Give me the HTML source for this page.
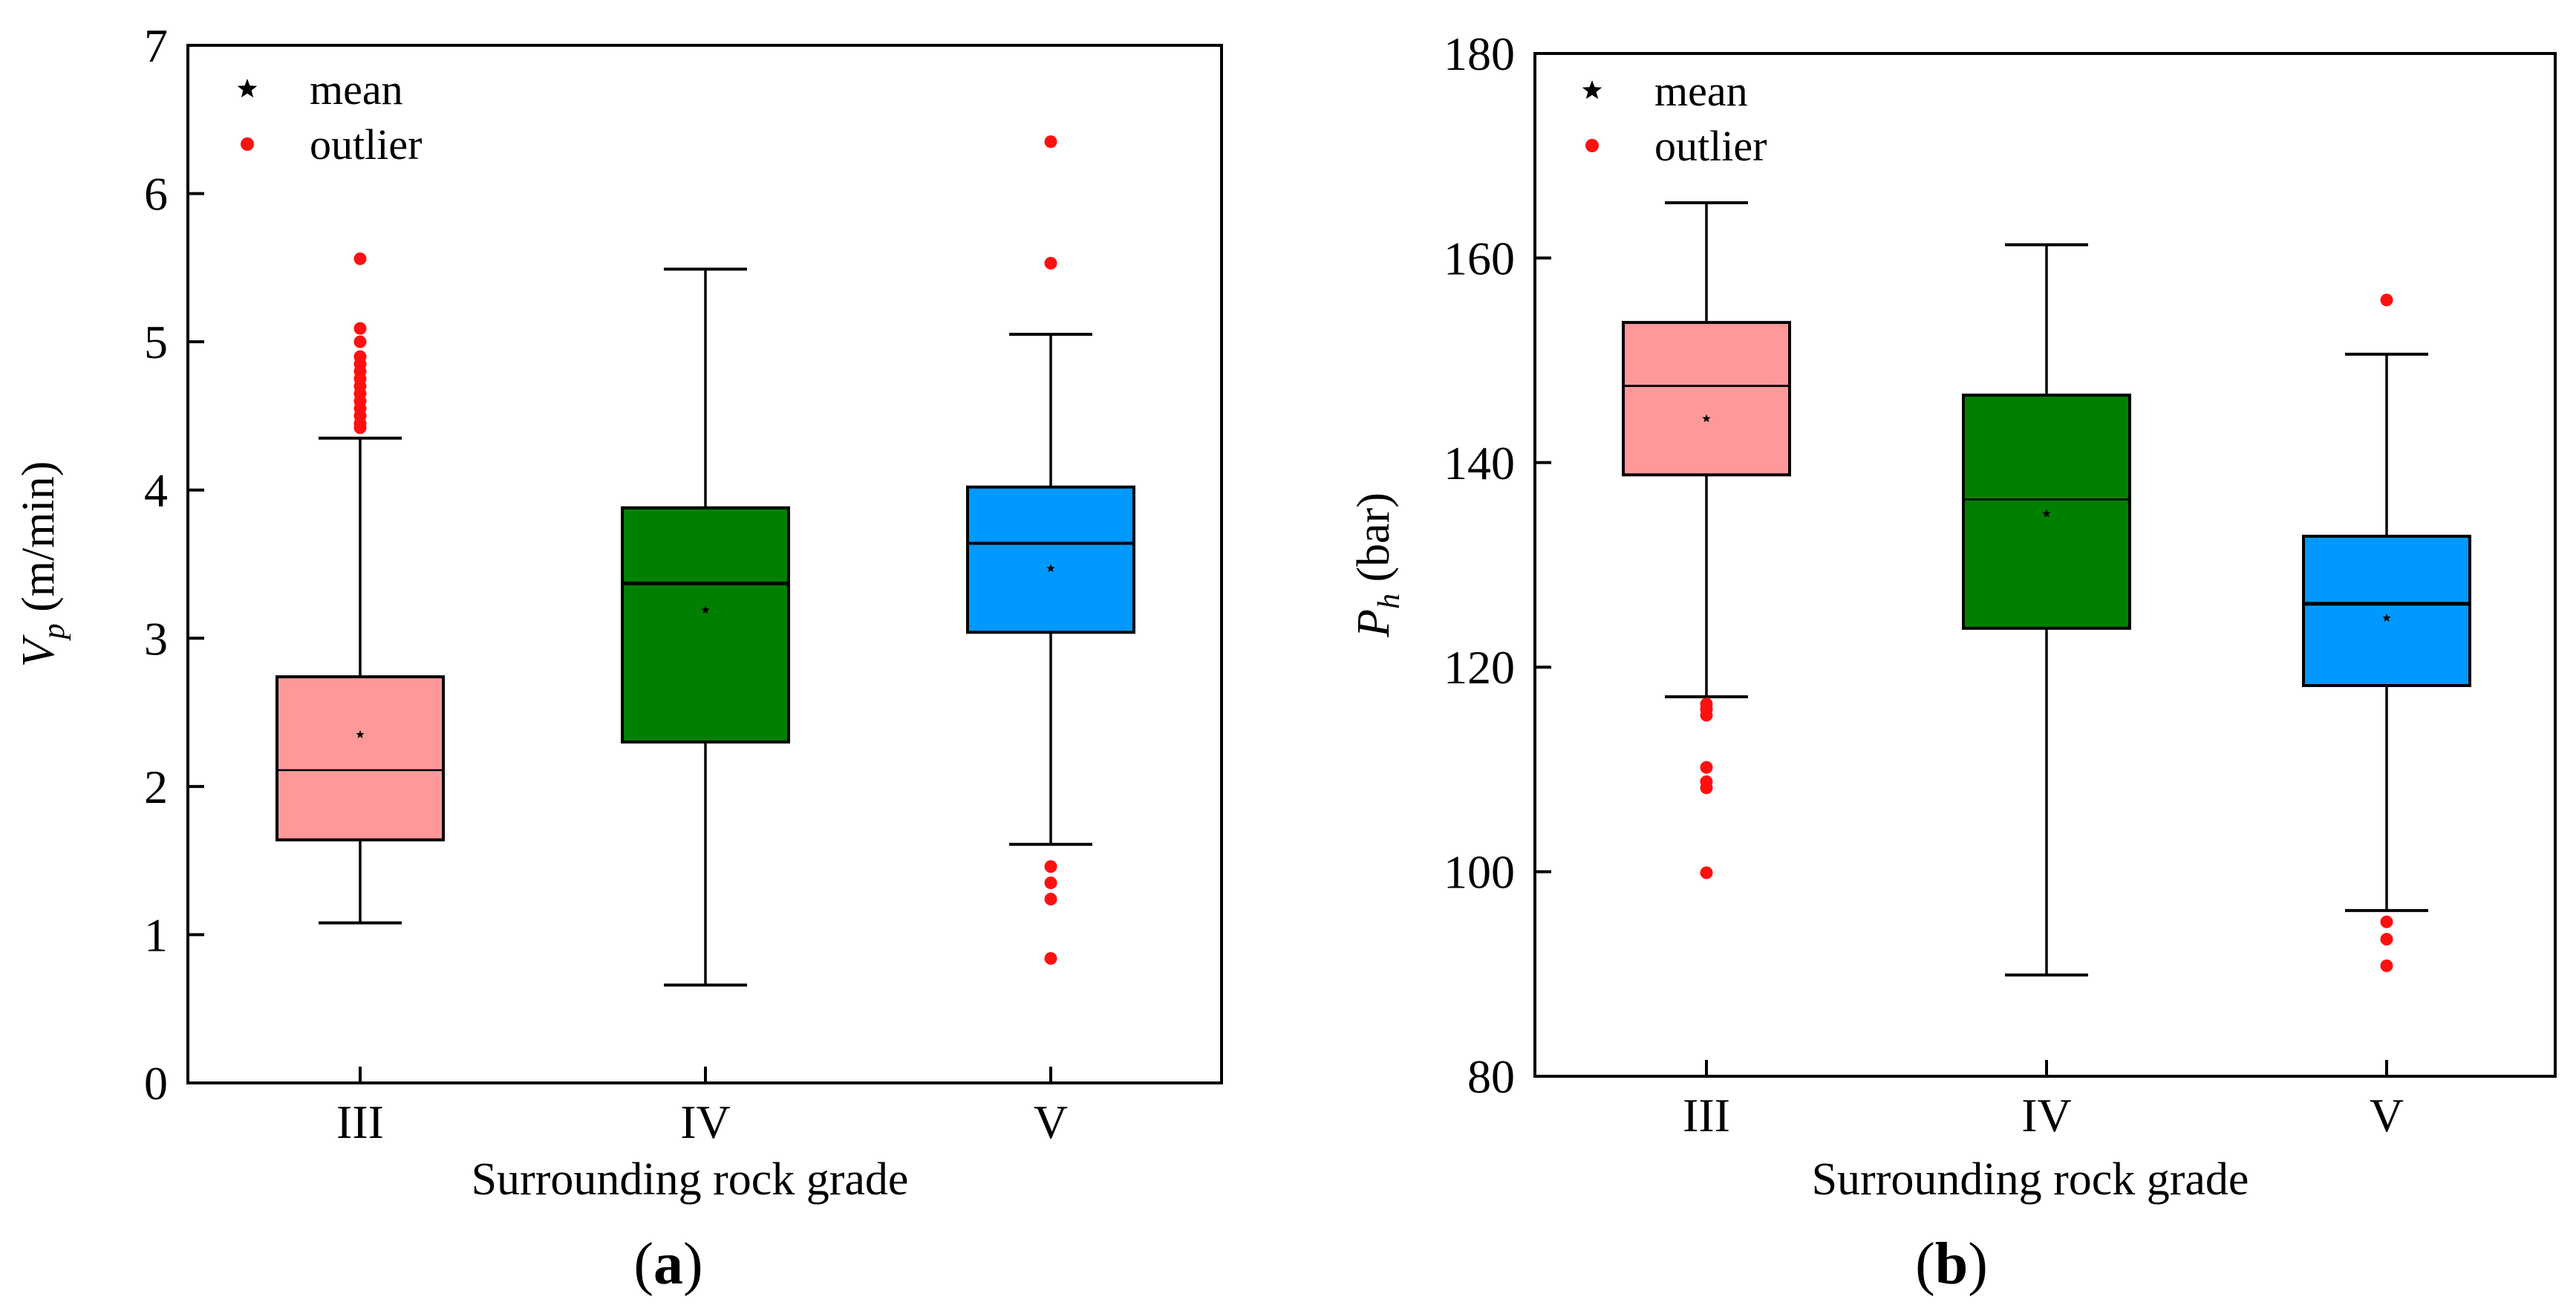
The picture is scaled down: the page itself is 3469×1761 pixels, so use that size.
<!DOCTYPE html>
<html><head><meta charset="utf-8"><style>
html,body{margin:0;padding:0;background:#fff;}
svg{display:block;font-family:"Liberation Serif",serif;}
</style></head><body>
<svg id="c" width="3469" height="1761" viewBox="0 0 3469 1761" xmlns="http://www.w3.org/2000/svg"></svg>
<script>
// ---- data (a) ----
const categories = ["III","IV","V"];
const vpQ1 = [1.64, 2.30, 3.04];
const vpMedian = [2.11, 3.37, 3.64];
const vpQ3 = [2.74, 3.88, 4.02];
const vpMean = [2.35, 3.19, 3.47];
const vpWhiskLow = [1.08, 0.66, 1.61];
const vpWhiskHigh = [4.35, 5.49, 5.05];
const vpOutliers = [
  [5.56,5.09,5.0,4.9,4.85,4.8,4.75,4.7,4.65,4.6,4.55,4.5,4.45,4.42],
  [],
  [6.35,5.53,1.46,1.35,1.24,0.84]
];
const vpTicks = [0,1,2,3,4,5,6,7];
// ---- data (b) ----
const phQ1 = [138.8, 123.8, 118.2];
const phMedian = [147.5, 136.4, 126.2];
const phQ3 = [153.7, 146.6, 132.8];
const phMean = [144.3, 135.0, 124.8];
const phWhiskLow = [117.1, 89.9, 96.2];
const phWhiskHigh = [165.4, 161.3, 150.6];
const phOutliers = [
  [116.4,115.9,115.3,110.2,108.8,108.2,99.9],
  [],
  [155.9,95.1,93.4,90.8]
];
const phTicks = [80,100,120,140,160,180];
const fills = ["#ff9999","#008000","#0099ff"];

const svg = document.getElementById('c');
const NS = "http://www.w3.org/2000/svg";
function mk(tag, attrs, parent){
  const e = document.createElementNS(NS, tag);
  for (const k in attrs) e.setAttribute(k, attrs[k]);
  (parent||svg).appendChild(e);
  return e;
}
function star(g, cx, cy, r){
  let p=[];
  for(let i=0;i<10;i++){const a=-Math.PI/2+i*Math.PI/5;const rr=i%2?r*0.42:r;p.push((cx+rr*Math.cos(a)).toFixed(1)+","+(cy+rr*Math.sin(a)).toFixed(1));}
  return mk('polygon',{points:p.join(' '),fill:'#000'},g);
}

function panel(opt){
  const g = mk('g',{});
  
  
  const L=opt.left,R=opt.right,T=opt.top,B=opt.bottom;
  const y = v => B - (v-opt.ymin)/(opt.ymax-opt.ymin)*(B-T);
  const x = i => opt.x0 + i*opt.dx;
  const area = mk('rect',{x:L,y:T,width:R-L,height:B-T,fill:'#fff',stroke:'#000','stroke-width':4},g);
  
  
  opt.ticks.forEach(t=>{
    const tk = mk('line',{x1:L,x2:L+22,y1:y(t),y2:y(t),stroke:'#000','stroke-width':4},g);
    
    
    const tl = mk('text',{x:opt.tickRight,y:y(t)+22,'text-anchor':'end','font-size':64,fill:'#000'},g);
    tl.textContent = t;
    
    
  });
  categories.forEach((c,i)=>{
    const xt = mk('line',{x1:x(i),x2:x(i),y1:B,y2:B-22,stroke:'#000','stroke-width':4},g);
    
    
    const xl = mk('text',{x:x(i),y:B+74,'text-anchor':'middle','font-size':64,fill:'#000'},g);
    xl.textContent = c;
    
    
    const bw=224, cw=112;
    const wl = mk('line',{x1:x(i),x2:x(i),y1:y(opt.wh[i]),y2:y(opt.wl[i]),stroke:'#000','stroke-width':3.5},g);
    
    
    [opt.wh[i],opt.wl[i]].forEach(v=>{
      const cap = mk('line',{x1:x(i)-cw/2,x2:x(i)+cw/2,y1:y(v),y2:y(v),stroke:'#000','stroke-width':4},g);
      
      
    });
    const box = mk('rect',{x:x(i)-bw/2,y:y(opt.q3[i]),width:bw,height:y(opt.q1[i])-y(opt.q3[i]),fill:fills[i],stroke:'#000','stroke-width':4},g);
    
    
    const md = mk('line',{x1:x(i)-bw/2,x2:x(i)+bw/2,y1:y(opt.med[i]),y2:y(opt.med[i]),stroke:'#000','stroke-width':opt.medW[i]},g);
    
    
    const mn = star(g, x(i), y(opt.mean[i]), 6);
    
    
    opt.out[i].forEach(v=>{
      const o = mk('circle',{cx:x(i),cy:y(v),r:8.5,fill:'#ff1010'},g);
      
      
    });
  });
  const lg = mk('g',{},g);
  
  
  const ls = star(lg, opt.legX, opt.legY, 14);
  
  
  const lt1 = mk('text',{x:opt.legX+84,y:opt.legY+20,'font-size':58,fill:'#000'},lg);
  lt1.textContent = 'mean';
  
  
  const ld = mk('circle',{cx:opt.legX,cy:opt.legY+74,r:9,fill:'#ff1010'},lg);
  
  
  const lt2 = mk('text',{x:opt.legX+84,y:opt.legY+94,'font-size':58,fill:'#000'},lg);
  lt2.textContent = opt.outWord;
  
  
  const xt = mk('text',{x:(L+R)/2-20,y:1608,'text-anchor':'middle','font-size':62,fill:'#000'},g);
  xt.textContent = 'Surrounding rock grade';
  
  
  const yt = mk('text',{x:0,y:0,'text-anchor':'middle','font-size':62,fill:'#000',transform:`translate(${opt.ytX},${(T+B)/2}) rotate(-90)`},g);
  yt.innerHTML = `<tspan font-style="italic">${opt.sym}</tspan><tspan font-style="italic" font-size="42" dy="14">${opt.sub}</tspan><tspan dy="-14"> ${opt.unit}</tspan>`;
  
  
  const cap = mk('text',{x:opt.capX,y:1728,'text-anchor':'middle','font-size':80,fill:'#000'},g);
  cap.innerHTML = `(<tspan font-weight="bold">${opt.cap}</tspan>)`;
  
  
}

panel({name:'panel-a-vp',left:253,right:1645,top:61,bottom:1458,ymin:0,ymax:7,x0:485,dx:465,
  ticks:vpTicks,tickRight:226,q1:vpQ1,q3:vpQ3,med:vpMedian,mean:vpMean,wl:vpWhiskLow,wh:vpWhiskHigh,out:vpOutliers,
  medW:[2.5,5,4],legX:333,legY:120,outWord:'outlier',ytX:72,sym:'V',sub:'p',unit:'(m/min)',capX:900,cap:'a'});
panel({name:'panel-b-ph',left:2067,right:3441,top:72,bottom:1449,ymin:80,ymax:180,x0:2298,dx:458,
  ticks:phTicks,tickRight:2040,q1:phQ1,q3:phQ3,med:phMedian,mean:phMean,wl:phWhiskLow,wh:phWhiskHigh,out:phOutliers,
  medW:[3,2.5,5],legX:2144,legY:122,outWord:'outlier',ytX:1870,sym:'P',sub:'h',unit:'(bar)',capX:2628,cap:'b'});
</script>
</body></html>
